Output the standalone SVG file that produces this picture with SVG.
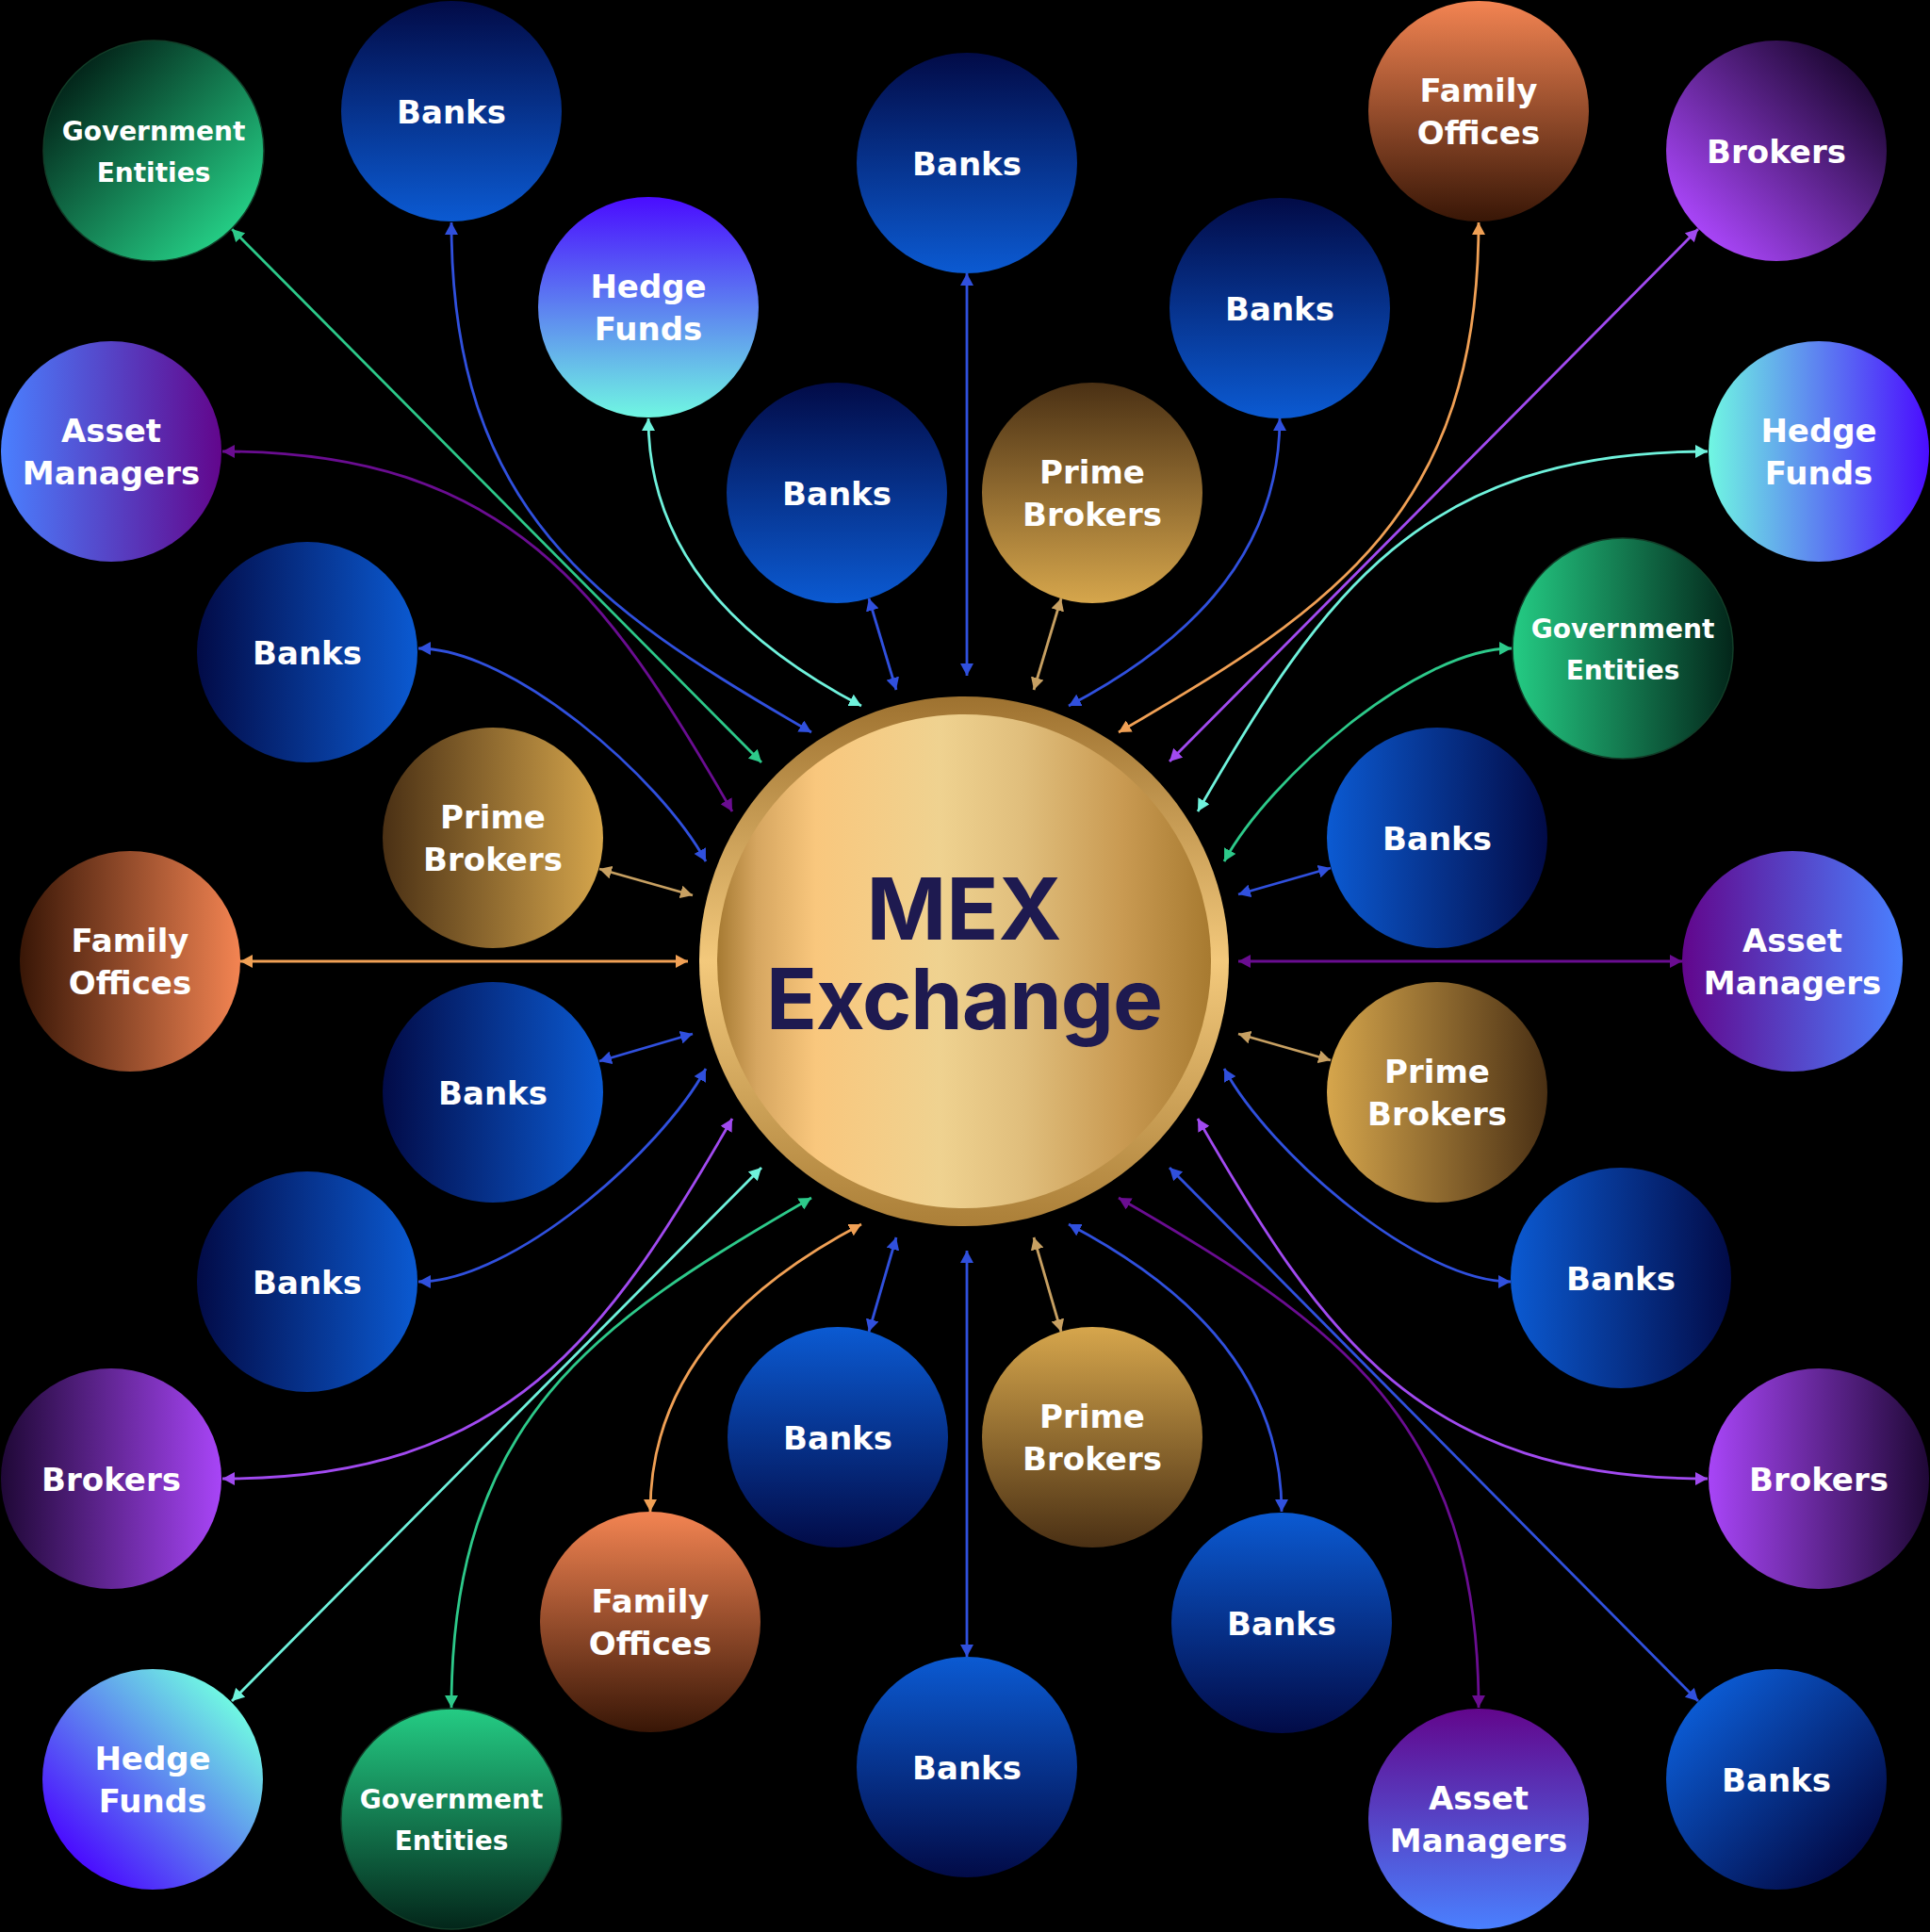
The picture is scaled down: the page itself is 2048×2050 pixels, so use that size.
<svg xmlns="http://www.w3.org/2000/svg" width="2048" height="2050" viewBox="0 0 2048 2050">
<style>
.lbl{font-family:"DejaVu Sans","Verdana",sans-serif;font-weight:bold;font-size:34px;fill:#ffffff;text-anchor:middle}
.gov{font-size:28px}
.c{fill:none;stroke-width:2.8}
.cb{stroke:#3050dd;marker-start:url(#mB);marker-end:url(#mB)}
.cg{stroke:#2dc98a;marker-start:url(#mG);marker-end:url(#mG)}
.ch{stroke:#6ff2dc;marker-start:url(#mH);marker-end:url(#mH)}
.ca{stroke:#6a0d91;marker-start:url(#mA);marker-end:url(#mA)}
.cf{stroke:#f0a055;marker-start:url(#mF);marker-end:url(#mF)}
.ck{stroke:#a14af0;marker-start:url(#mK);marker-end:url(#mK)}
.cp{stroke:#c7a062;marker-start:url(#mP);marker-end:url(#mP)}
.mex{font-family:Inter,"Liberation Sans",sans-serif;font-weight:700;fill:#1e1a50;text-anchor:middle}
</style>
<defs>
<linearGradient id="gBanks" x1="0" y1="0" x2="0" y2="1"><stop offset="0" stop-color="#020b47"/><stop offset="1" stop-color="#0b5ad2"/></linearGradient>
<linearGradient id="gGov" x1="0" y1="0" x2="0" y2="1"><stop offset="0" stop-color="#03261a"/><stop offset="1" stop-color="#24cc84"/></linearGradient>
<linearGradient id="gHedge" x1="0" y1="0" x2="0" y2="1"><stop offset="0" stop-color="#4a0cff"/><stop offset="1" stop-color="#70f7e2"/></linearGradient>
<linearGradient id="gAsset" x1="0" y1="0" x2="0" y2="1"><stop offset="0" stop-color="#4a80ff"/><stop offset="1" stop-color="#62068c"/></linearGradient>
<linearGradient id="gFamily" x1="0" y1="0" x2="0" y2="1"><stop offset="0" stop-color="#f38452"/><stop offset="1" stop-color="#381606"/></linearGradient>
<linearGradient id="gBrokers" x1="0" y1="0" x2="0" y2="1"><stop offset="0" stop-color="#1f0836"/><stop offset="1" stop-color="#a845f7"/></linearGradient>
<linearGradient id="gPrime" x1="0" y1="0" x2="0" y2="1"><stop offset="0" stop-color="#4a3014"/><stop offset="1" stop-color="#d6a64c"/></linearGradient>
<linearGradient id="gRing" x1="0" y1="0" x2="0" y2="1"><stop offset="0" stop-color="#9e7230"/><stop offset="0.5" stop-color="#f3c97c"/><stop offset="1" stop-color="#ab7f38"/></linearGradient>
<linearGradient id="gCore" x1="0" y1="0" x2="1" y2="0"><stop offset="0" stop-color="#a67a32"/><stop offset="0.08" stop-color="#d6a660"/><stop offset="0.2" stop-color="#f9c77d"/><stop offset="0.45" stop-color="#efd290"/><stop offset="0.62" stop-color="#e0be7c"/><stop offset="0.82" stop-color="#c99a52"/><stop offset="1" stop-color="#a77a30"/></linearGradient>
<marker id="mB" viewBox="0 0 13 14" refX="13" refY="7" markerWidth="13" markerHeight="14" markerUnits="userSpaceOnUse" orient="auto-start-reverse"><path d="M0,0 L13,7 L0,14 z" fill="#3050dd"/></marker>
<marker id="mG" viewBox="0 0 13 14" refX="13" refY="7" markerWidth="13" markerHeight="14" markerUnits="userSpaceOnUse" orient="auto-start-reverse"><path d="M0,0 L13,7 L0,14 z" fill="#2dc98a"/></marker>
<marker id="mH" viewBox="0 0 13 14" refX="13" refY="7" markerWidth="13" markerHeight="14" markerUnits="userSpaceOnUse" orient="auto-start-reverse"><path d="M0,0 L13,7 L0,14 z" fill="#6ff2dc"/></marker>
<marker id="mA" viewBox="0 0 13 14" refX="13" refY="7" markerWidth="13" markerHeight="14" markerUnits="userSpaceOnUse" orient="auto-start-reverse"><path d="M0,0 L13,7 L0,14 z" fill="#6a0d91"/></marker>
<marker id="mF" viewBox="0 0 13 14" refX="13" refY="7" markerWidth="13" markerHeight="14" markerUnits="userSpaceOnUse" orient="auto-start-reverse"><path d="M0,0 L13,7 L0,14 z" fill="#f0a055"/></marker>
<marker id="mK" viewBox="0 0 13 14" refX="13" refY="7" markerWidth="13" markerHeight="14" markerUnits="userSpaceOnUse" orient="auto-start-reverse"><path d="M0,0 L13,7 L0,14 z" fill="#a14af0"/></marker>
<marker id="mP" viewBox="0 0 13 14" refX="13" refY="7" markerWidth="13" markerHeight="14" markerUnits="userSpaceOnUse" orient="auto-start-reverse"><path d="M0,0 L13,7 L0,14 z" fill="#c7a062"/></marker>
</defs>
<rect width="2048" height="2050" fill="#000000"/>
<g id="connectors">
<path class="c cg" d="M246,243 L808,809"/>
<path class="c cb" d="M479,236 C479,540 630,644 861,777"/>
<path class="c ch" d="M688,444 C688,600 804,691 914,749"/>
<path class="c ca" d="M236,479 C540,479 644,630 777,861"/>
<path class="c cb" d="M444,688 C544,688 701,826 749,914"/>
<path class="c cb" d="M922,635 L951,732"/>
<path class="c cb" d="M1026,290 L1026,717"/>
<path class="c cp" d="M1126,635 L1097,732"/>
<path class="c cf" d="M1569,236 C1569,540 1418,644 1187,777"/>
<path class="c cb" d="M1358,444 C1358,600 1244,691 1134,749"/>
<path class="c ck" d="M1802,243 L1241,808"/>
<path class="c ch" d="M1812,479 C1508,479 1404,630 1271,861"/>
<path class="c cg" d="M1604,688 C1504,688 1347,826 1299,914"/>
<path class="c cb" d="M1412,921 L1314,949"/>
<path class="c ca" d="M1785,1020 L1314,1020"/>
<path class="c cp" d="M1412,1125 L1314,1097"/>
<path class="c cb" d="M1603,1360 C1504,1360 1347,1222 1299,1134"/>
<path class="c ck" d="M1812,1569 C1508,1569 1404,1418 1271,1187"/>
<path class="c cb" d="M1802,1805 L1241,1239"/>
<path class="c ca" d="M1569,1812 C1569,1508 1418,1404 1187,1271"/>
<path class="c cb" d="M1360,1604 C1360,1448 1244,1357 1134,1299"/>
<path class="c cp" d="M1126,1413 L1097,1313"/>
<path class="c cb" d="M1026,1758 L1026,1327"/>
<path class="c cb" d="M922,1413 L951,1313"/>
<path class="c cf" d="M690,1604 C690,1448 804,1357 914,1299"/>
<path class="c cg" d="M479,1812 C479,1508 630,1404 861,1271"/>
<path class="c ch" d="M246,1805 L808,1239"/>
<path class="c ck" d="M236,1569 C540,1569 644,1418 777,1187"/>
<path class="c cb" d="M444,1360 C544,1360 701,1222 749,1134"/>
<path class="c cb" d="M636,1126 L735,1097"/>
<path class="c cf" d="M255,1020 L730,1020"/>
<path class="c cp" d="M636,922 L735,950"/>
</g>
<g id="mex-exchange">
<circle cx="1023" cy="1020" r="281" fill="url(#gRing)"/>
<circle cx="1023" cy="1020" r="262" fill="url(#gCore)"/>
<text class="mex" x="1023" y="997" font-size="91">MEX</text>
<text class="mex" x="1023" y="1092" font-size="89" letter-spacing="-1">Exchange</text>
</g>
<g id="n01"><circle r="117" fill="url(#gGov)" stroke="#123d28" stroke-width="1.5" transform="translate(163,160) rotate(-45)"/><text class="lbl gov" x="163" y="149">Government</text><text class="lbl gov" x="163" y="193">Entities</text></g>
<g id="n02"><circle r="117" fill="url(#gBanks)" transform="translate(479,118) rotate(0)"/><text class="lbl" x="479" y="130.5">Banks</text></g>
<g id="n03"><circle r="117" fill="url(#gHedge)" transform="translate(688,326) rotate(0)"/><text class="lbl" x="688" y="316">Hedge</text><text class="lbl" x="688" y="361">Funds</text></g>
<g id="n04"><circle r="117" fill="url(#gBanks)" transform="translate(1026,173) rotate(0)"/><text class="lbl" x="1026" y="185.5">Banks</text></g>
<g id="n05"><circle r="117" fill="url(#gBanks)" transform="translate(888,523) rotate(0)"/><text class="lbl" x="888" y="535.5">Banks</text></g>
<g id="n06"><circle r="117" fill="url(#gPrime)" transform="translate(1159,523) rotate(0)"/><text class="lbl" x="1159" y="513">Prime</text><text class="lbl" x="1159" y="558">Brokers</text></g>
<g id="n07"><circle r="117" fill="url(#gBanks)" transform="translate(1358,327) rotate(0)"/><text class="lbl" x="1358" y="339.5">Banks</text></g>
<g id="n08"><circle r="117" fill="url(#gFamily)" transform="translate(1569,118) rotate(0)"/><text class="lbl" x="1569" y="108">Family</text><text class="lbl" x="1569" y="153">Offices</text></g>
<g id="n09"><circle r="117" fill="url(#gBrokers)" transform="translate(1885,160) rotate(45)"/><text class="lbl" x="1885" y="172.5">Brokers</text></g>
<g id="n10"><circle r="117" fill="url(#gHedge)" transform="translate(1930,479) rotate(90)"/><text class="lbl" x="1930" y="469">Hedge</text><text class="lbl" x="1930" y="514">Funds</text></g>
<g id="n11"><circle r="117" fill="url(#gGov)" stroke="#123d28" stroke-width="1.5" transform="translate(1722,688) rotate(90)"/><text class="lbl gov" x="1722" y="677">Government</text><text class="lbl gov" x="1722" y="721">Entities</text></g>
<g id="n12"><circle r="117" fill="url(#gBanks)" transform="translate(1525,889) rotate(90)"/><text class="lbl" x="1525" y="901.5">Banks</text></g>
<g id="n13"><circle r="117" fill="url(#gAsset)" transform="translate(1902,1020) rotate(90)"/><text class="lbl" x="1902" y="1010">Asset</text><text class="lbl" x="1902" y="1055">Managers</text></g>
<g id="n14"><circle r="117" fill="url(#gPrime)" transform="translate(1525,1159) rotate(90)"/><text class="lbl" x="1525" y="1149">Prime</text><text class="lbl" x="1525" y="1194">Brokers</text></g>
<g id="n15"><circle r="117" fill="url(#gBanks)" transform="translate(1720,1356) rotate(90)"/><text class="lbl" x="1720" y="1368.5">Banks</text></g>
<g id="n16"><circle r="117" fill="url(#gBrokers)" transform="translate(1930,1569) rotate(90)"/><text class="lbl" x="1930" y="1581.5">Brokers</text></g>
<g id="n17"><circle r="117" fill="url(#gBanks)" transform="translate(1885,1888) rotate(135)"/><text class="lbl" x="1885" y="1900.5">Banks</text></g>
<g id="n18"><circle r="117" fill="url(#gAsset)" transform="translate(1569,1930) rotate(180)"/><text class="lbl" x="1569" y="1920">Asset</text><text class="lbl" x="1569" y="1965">Managers</text></g>
<g id="n19"><circle r="117" fill="url(#gBanks)" transform="translate(1360,1722) rotate(180)"/><text class="lbl" x="1360" y="1734.5">Banks</text></g>
<g id="n20"><circle r="117" fill="url(#gPrime)" transform="translate(1159,1525) rotate(180)"/><text class="lbl" x="1159" y="1515">Prime</text><text class="lbl" x="1159" y="1560">Brokers</text></g>
<g id="n21"><circle r="117" fill="url(#gBanks)" transform="translate(1026,1875) rotate(180)"/><text class="lbl" x="1026" y="1887.5">Banks</text></g>
<g id="n22"><circle r="117" fill="url(#gBanks)" transform="translate(889,1525) rotate(180)"/><text class="lbl" x="889" y="1537.5">Banks</text></g>
<g id="n23"><circle r="117" fill="url(#gFamily)" transform="translate(690,1721) rotate(0)"/><text class="lbl" x="690" y="1711">Family</text><text class="lbl" x="690" y="1756">Offices</text></g>
<g id="n24"><circle r="117" fill="url(#gGov)" stroke="#123d28" stroke-width="1.5" transform="translate(479,1930) rotate(180)"/><text class="lbl gov" x="479" y="1919">Government</text><text class="lbl gov" x="479" y="1963">Entities</text></g>
<g id="n25"><circle r="117" fill="url(#gHedge)" transform="translate(162,1888) rotate(-135)"/><text class="lbl" x="162" y="1878">Hedge</text><text class="lbl" x="162" y="1923">Funds</text></g>
<g id="n26"><circle r="117" fill="url(#gBrokers)" transform="translate(118,1569) rotate(-90)"/><text class="lbl" x="118" y="1581.5">Brokers</text></g>
<g id="n27"><circle r="117" fill="url(#gBanks)" transform="translate(326,1360) rotate(-90)"/><text class="lbl" x="326" y="1372.5">Banks</text></g>
<g id="n28"><circle r="117" fill="url(#gBanks)" transform="translate(523,1159) rotate(-90)"/><text class="lbl" x="523" y="1171.5">Banks</text></g>
<g id="n29"><circle r="117" fill="url(#gFamily)" transform="translate(138,1020) rotate(90)"/><text class="lbl" x="138" y="1010">Family</text><text class="lbl" x="138" y="1055">Offices</text></g>
<g id="n30"><circle r="117" fill="url(#gPrime)" transform="translate(523,889) rotate(-90)"/><text class="lbl" x="523" y="879">Prime</text><text class="lbl" x="523" y="924">Brokers</text></g>
<g id="n31"><circle r="117" fill="url(#gBanks)" transform="translate(326,692) rotate(-90)"/><text class="lbl" x="326" y="704.5">Banks</text></g>
<g id="n32"><circle r="117" fill="url(#gAsset)" transform="translate(118,479) rotate(-90)"/><text class="lbl" x="118" y="469">Asset</text><text class="lbl" x="118" y="514">Managers</text></g>
</svg>
